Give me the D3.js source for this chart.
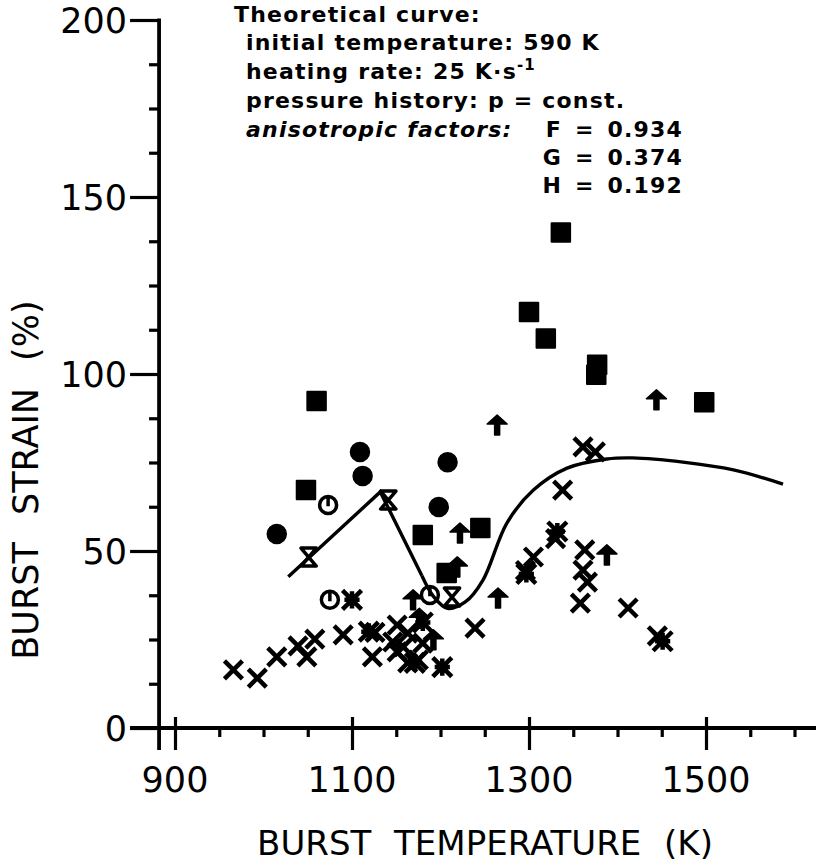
<!DOCTYPE html>
<html>
<head>
<meta charset="utf-8">
<script src="https://cdnjs.cloudflare.com/ajax/libs/d3/7.8.5/d3.min.js"></script>
<style>
body { margin: 0; background: #fff; }
text { font-family: "DejaVu Sans", sans-serif; fill: #000; }
</style>
</head>
<body>
<div id="chart"></div>
<script>
var w = 816;
var h = 867;

// tick values
var xMajor = [900, 1100, 1300, 1500];
var xMinor = [950, 1000, 1050, 1150, 1200, 1250, 1350, 1400, 1450, 1550, 1600];
var yMajor = [0, 50, 100, 150, 200];
var yMinor = [12.5, 25, 37.5, 62.5, 75, 87.5, 112.5, 125, 137.5, 162.5, 175, 187.5];

// [burst temperature K, burst strain %]
var squares = [[1060, 92.4], [1048, 67.2], [1180, 54.5], [1245, 56.5], [1207, 43.8],
  [1336, 140], [1300, 117.5], [1319, 110], [1377, 102.6], [1376, 99.8], [1498, 92]];
var circles = [[1015, 54.8], [1109, 78], [1112, 71.2], [1208, 75.1], [1198, 62.4]];
var circleTicks = [[1073, 63], [1075, 36.2], [1188, 37.6]];
var hourglasses = [[1051, 48.3], [1141, 64.4], [1213, 37]];
var asterisks = [[1100, 36.2], [1119, 27.2], [1332, 55.5], [1297, 43.5], [1451, 24.5],
  [1202, 17.2], [1171, 18.4], [1180, 29.8]];
var arrows = [[1264, 85.6], [1444, 92.7], [1388, 48.9], [1265, 36.7], [1222, 55.1],
  [1219, 45.5], [1169, 36.2], [1192, 24.9], [1176, 31]];
var crosses = [[966, 16.4], [993, 14.1], [1015, 20.1], [1039, 23.2], [1049, 20.1],
  [1058, 25.1], [1090, 26.3], [1123, 20.1], [1126, 27], [1239, 28.2],
  [1151, 29.1], [1146, 24.3], [1151, 21.5], [1163, 18.4], [1175, 19.2], [1180, 24],
  [1163, 26.8], [1158, 22.9],
  [1361, 79.4], [1375, 78], [1338, 67.2], [1363, 50.3], [1361, 44.6], [1366, 41.2],
  [1358, 35.3], [1412, 33.9], [1305, 48.3], [1330, 53.5], [1296, 44.5], [1445, 26]];

// theoretical curve
var curveLeft = [[1028, 42.7], [1132, 66.7], [1179, 43]];
var curveRight = [[1179, 43], [1192, 37.2], [1208, 33.8], [1228, 35.6], [1248, 41.8],
  [1275, 57.9], [1305, 67.2], [1343, 73.4], [1388, 76], [1417, 76.3],
  [1474, 75.1], [1531, 72.9], [1587, 68.9]];

var legendLines = ["initial temperature: 590 K", "pressure history: p = const."];

var xScale = d3.scaleLinear().domain([900, 1500]).range([175, 706]);
var yScale = d3.scaleLinear().domain([0, 200]).range([728, 20]);
var axisX = xScale(882);

var svg = d3.select("#chart").append("svg")
    .attr("width", w)
    .attr("height", h);

// ---- axes
var xMaj = svg.append("g")
    .attr("transform", "translate(0," + yScale(0) + ")")
    .call(d3.axisBottom(xScale).tickValues(xMajor).tickSize(22).tickFormat(""));
xMaj.selectAll(".tick line").attr("y1", -11);
var xMin = svg.append("g")
    .attr("transform", "translate(0," + yScale(0) + ")")
    .call(d3.axisBottom(xScale).tickValues(xMinor).tickSize(9).tickFormat(""));
var yMaj = svg.append("g")
    .attr("transform", "translate(" + axisX + ",0)")
    .call(d3.axisLeft(yScale).tickValues(yMajor).tickSize(29).tickFormat(""));
var yMin = svg.append("g")
    .attr("transform", "translate(" + axisX + ",0)")
    .call(d3.axisLeft(yScale).tickValues(yMinor).tickSize(10).tickFormat(""));
svg.selectAll(".domain").remove();
svg.selectAll(".tick line").attr("stroke", "#000").attr("stroke-width", 3.2);

svg.append("line")
    .attr("x1", axisX - 29).attr("x2", w)
    .attr("y1", yScale(0)).attr("y2", yScale(0))
    .attr("stroke", "#000").attr("stroke-width", 3.8);
svg.append("line")
    .attr("x1", axisX).attr("x2", axisX)
    .attr("y1", yScale(200) - 1.5).attr("y2", yScale(0) + 22)
    .attr("stroke", "#000").attr("stroke-width", 3.8);

svg.selectAll(".xlab").data(xMajor).enter().append("text")
    .attr("class", "xlab")
    .attr("x", function(d) { return xScale(d); })
    .attr("y", 792)
    .attr("text-anchor", "middle")
    .style("font-size", "35px")
    .text(function(d) { return d; });

svg.selectAll(".ylab").data(yMajor).enter().append("text")
    .attr("class", "ylab")
    .attr("x", axisX - 32)
    .attr("y", function(d) { return yScale(d); })
    .attr("dy", "0.36em")
    .attr("text-anchor", "end")
    .style("font-size", "35px")
    .text(function(d) { return d; });

svg.append("text")
    .attr("x", 485).attr("y", 855)
    .attr("text-anchor", "middle")
    .style("font-size", "34px")
    .style("word-spacing", "12px")
    .text("BURST TEMPERATURE (K)");

svg.append("text")
    .attr("transform", "translate(38,480) rotate(-90)")
    .attr("text-anchor", "middle")
    .style("font-size", "35px")
    .style("word-spacing", "16px")
    .text("BURST STRAIN (%)");

// ---- theoretical curve
var line = d3.line()
    .x(function(d) { return xScale(d[0]); })
    .y(function(d) { return yScale(d[1]); });

svg.append("path")
    .datum(curveLeft)
    .attr("d", line.curve(d3.curveLinear))
    .attr("fill", "none").attr("stroke", "#000").attr("stroke-width", 3.4);
svg.append("path")
    .datum(curveRight)
    .attr("d", line.curve(d3.curveCatmullRom))
    .attr("fill", "none").attr("stroke", "#000").attr("stroke-width", 3.4);

// ---- marker shapes
var crossType = { draw: function(c, s) {
  var r = Math.sqrt(s) / 2;
  c.moveTo(-r, -r); c.lineTo(r, r); c.moveTo(r, -r); c.lineTo(-r, r);
}};
var starType = { draw: function(c, s) {
  var r = Math.sqrt(s) / 2;
  c.moveTo(-r, -r); c.lineTo(r, r); c.moveTo(r, -r); c.lineTo(-r, r);
  c.moveTo(0, -r * 0.9); c.lineTo(0, r * 0.9);
  c.moveTo(-r * 0.8, 0); c.lineTo(r * 0.8, 0);
}};
var hourType = { draw: function(c, s) {
  var r = Math.sqrt(s) / 2;
  c.moveTo(-r * 0.85, -r); c.lineTo(r * 0.85, -r); c.lineTo(-r * 0.85, r);
  c.lineTo(r * 0.85, r); c.closePath();
}};
var arrowType = { draw: function(c, s) {
  var r = Math.sqrt(s) / 2;
  c.moveTo(0, -r); c.lineTo(r, -r * 0.1); c.lineTo(r * 0.25, -r * 0.1);
  c.lineTo(r * 0.25, r); c.lineTo(-r * 0.25, r); c.lineTo(-r * 0.25, -r * 0.1);
  c.lineTo(-r, -r * 0.1); c.closePath();
}};
var circleTickType = { draw: function(c, s) {
  var r = Math.sqrt(s) / 2;
  c.moveTo(r, 0); c.arc(0, 0, r, 0, 2 * Math.PI);
  c.moveTo(0, -r); c.lineTo(0, r * 0.15);
}};

function drawMarks(data, type, size, filled, sw) {
  svg.append("g").selectAll("path").data(data).enter().append("path")
      .attr("transform", function(d) {
        return "translate(" + xScale(d[0]) + "," + yScale(d[1]) + ")";
      })
      .attr("d", d3.symbol().type(type).size(size))
      .attr("fill", filled ? "#000" : "none")
      .attr("stroke", "#000")
      .attr("stroke-width", sw)
      .attr("stroke-linejoin", "round");
}

drawMarks(crosses, crossType, 18 * 18, false, 4.5);
drawMarks(asterisks, starType, 19 * 19, false, 4.5);
drawMarks(hourglasses, hourType, 18 * 18, false, 3.5);
drawMarks(arrows, arrowType, 20 * 20, true, 1.5);
drawMarks(circleTicks, circleTickType, 17 * 17, false, 3.5);
drawMarks(squares, d3.symbolSquare, 18.5 * 18.5, true, 2);
drawMarks(circles, d3.symbolCircle, 19 * 19 * Math.PI / 4, true, 1.5);

// ---- legend text
var leg = svg.append("g")
    .style("font-size", "22px")
    .style("font-weight", "bold")
    .style("letter-spacing", "1.2px");
leg.append("text").attr("x", 234).attr("y", 22).text("Theoretical curve:");
leg.append("text").attr("x", 246).attr("y", 50).text(legendLines[0]);
var hr = leg.append("text").attr("x", 246).attr("y", 79);
hr.append("tspan").text("heating rate: 25 K\u00b7s");
hr.append("tspan").attr("dy", -9).style("font-size", "15px").text("-1");
leg.append("text").attr("x", 246).attr("y", 108).text(legendLines[1]);
leg.append("text").attr("x", 246).attr("y", 137).style("font-style", "italic").text("anisotropic factors:");
var facs = leg.append("g").style("word-spacing", "4px");
facs.append("text").attr("x", 683).attr("y", 137).attr("text-anchor", "end").text("F = 0.934");
facs.append("text").attr("x", 683).attr("y", 165).attr("text-anchor", "end").text("G = 0.374");
facs.append("text").attr("x", 683).attr("y", 193).attr("text-anchor", "end").text("H = 0.192");
</script>
</body>
</html>
